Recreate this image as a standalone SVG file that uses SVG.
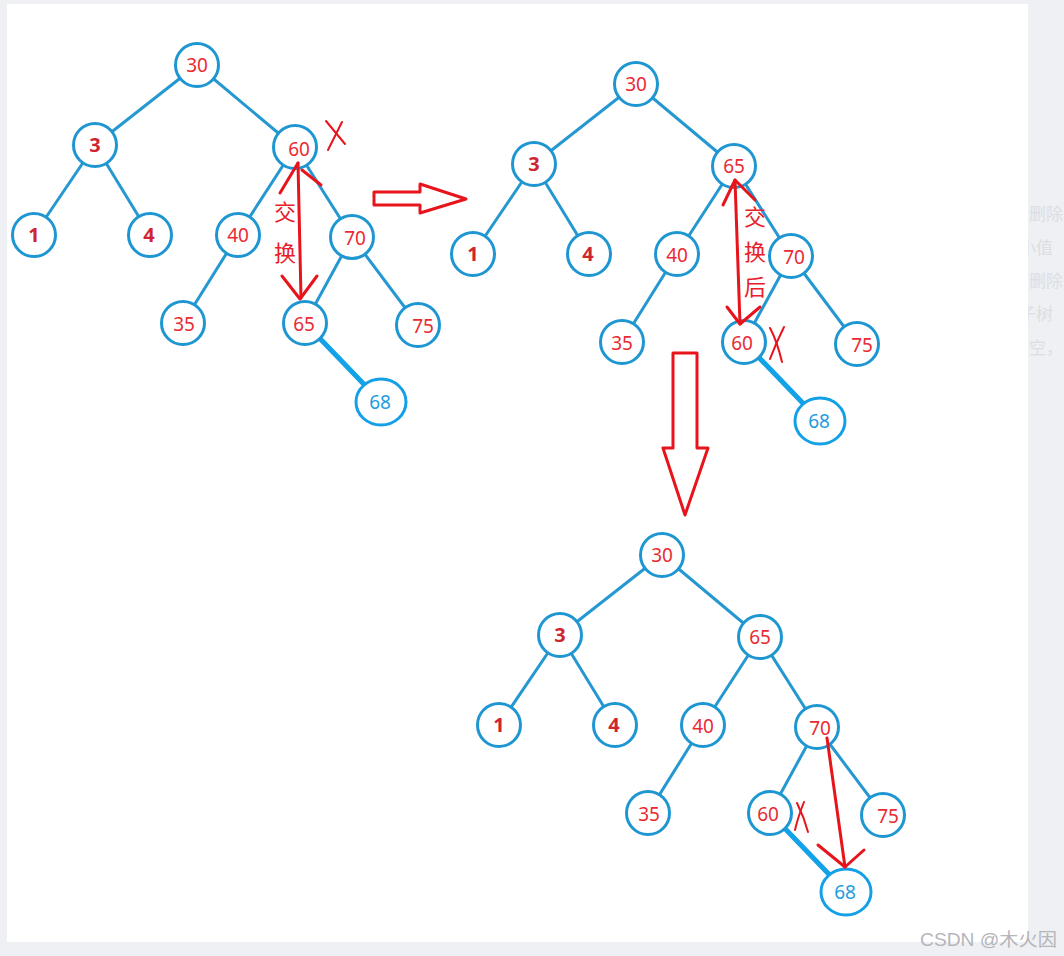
<svg xmlns="http://www.w3.org/2000/svg" width="1064" height="956" viewBox="0 0 1064 956">
<defs>
<style>
.e{stroke:#2598d2;stroke-width:3;fill:none;stroke-linecap:round}
.eb{stroke:#12a2e8;stroke-width:5;fill:none;stroke-linecap:round}
.n circle{fill:#fff;stroke:#1e96d1;stroke-width:3}
.n text{font-family:"Noto Sans","Open Sans",sans-serif;font-size:19px;fill:#ea2a33;text-anchor:middle}
.n text.b{font-weight:bold;fill:#cf2530;font-size:20px}
.nb ellipse{fill:#fff;stroke:#14a0e6;stroke-width:3}
.nb text{font-family:"Noto Sans","Open Sans",sans-serif;font-size:19px;fill:#1d9ce0;text-anchor:middle}
.r{stroke:#e8141c;stroke-width:3;fill:none;stroke-linecap:round;stroke-linejoin:round}
.rt{stroke:#e8141c;stroke-width:2;fill:none;stroke-linecap:round}
.cn{font-family:"Noto Sans CJK SC","Noto Sans",sans-serif;font-size:22px;fill:#e8202a;text-anchor:middle}
.bg{font-family:"Noto Sans CJK SC",sans-serif;font-size:17px;fill:#dcdee3}
</style>
</defs>
<rect width="1064" height="956" fill="#eef0f3"/>
<g id="page-text">
<text class="bg" x="1029" y="220">删除</text>
<text class="bg" x="1019" y="254">小值</text>
<text class="bg" x="1029" y="287">删除</text>
<text class="bg" x="1019" y="320">子树</text>
<text class="bg" x="1029" y="354">空，</text>
</g>
<rect x="7" y="4" width="1021" height="938" fill="#ffffff"/>

<!-- Tree 1 -->
<g id="tree1">
<g id="t1-edges">
<line class="e" x1="197" y1="65" x2="95" y2="145"/>
<line class="e" x1="197" y1="65" x2="295" y2="147"/>
<line class="e" x1="95" y1="145" x2="34" y2="235"/>
<line class="e" x1="95" y1="145" x2="150" y2="235"/>
<line class="e" x1="295" y1="147" x2="238" y2="235"/>
<line class="e" x1="295" y1="147" x2="352" y2="237"/>
<line class="e" x1="238" y1="235" x2="183" y2="323"/>
<line class="e" x1="352" y1="237" x2="305" y2="323"/>
<line class="e" x1="352" y1="237" x2="418" y2="325"/>
<line class="eb" x1="305" y1="323" x2="381" y2="402"/>
</g>
<g id="t1-n30" class="n"><circle cx="197" cy="65" r="21.5"/><text x="197" y="72">30</text></g>
<g id="t1-n3" class="n"><circle cx="95" cy="145" r="21.5"/><text class="b" x="95" y="152">3</text></g>
<g id="t1-n60" class="n"><circle cx="295" cy="147" r="21.5"/><text x="299" y="156">60</text></g>
<g id="t1-n1" class="n"><circle cx="34" cy="235" r="21.5"/><text class="b" x="34" y="242">1</text></g>
<g id="t1-n4" class="n"><circle cx="150" cy="235" r="21.5"/><text class="b" x="149" y="242">4</text></g>
<g id="t1-n40" class="n"><circle cx="238" cy="235" r="21.5"/><text x="238" y="242">40</text></g>
<g id="t1-n70" class="n"><circle cx="352" cy="237" r="21.5"/><text x="355" y="245">70</text></g>
<g id="t1-n35" class="n"><circle cx="183" cy="323" r="21.5"/><text x="184" y="331">35</text></g>
<g id="t1-n65" class="n"><circle cx="305" cy="323" r="21.5"/><text x="304" y="331">65</text></g>
<g id="t1-n75" class="n"><circle cx="418" cy="325" r="21.5"/><text x="423" y="333">75</text></g>
<g id="t1-n68" class="nb"><ellipse cx="381" cy="402" rx="25" ry="23"/><text x="380" y="409">68</text></g>
<g id="t1-notes">
<line class="r" x1="298" y1="163" x2="301" y2="298"/>
<polyline class="r" points="280,193 298,163"/>
<polyline class="r" points="302,170 321,185"/>
<polyline class="r" points="282,276 300,299 317,276"/>
<text class="cn" x="285" y="220">交</text>
<text class="cn" x="285" y="261">换</text>
<line class="rt" x1="326" y1="121" x2="345" y2="144"/>
<line class="rt" x1="342" y1="122" x2="328" y2="150"/>
</g>
</g>

<!-- right arrow -->
<polygon id="arrow-right" class="r" fill="#fff" points="374,192 420,192 420,184 466,199 420,213 420,205 374,205"/>

<!-- Tree 2 -->
<g id="tree2" transform="translate(439,19)">
<g id="t2-edges">
<line class="e" x1="197" y1="65" x2="95" y2="145"/>
<line class="e" x1="197" y1="65" x2="295" y2="147"/>
<line class="e" x1="95" y1="145" x2="34" y2="235"/>
<line class="e" x1="95" y1="145" x2="150" y2="235"/>
<line class="e" x1="295" y1="147" x2="238" y2="235"/>
<line class="e" x1="295" y1="147" x2="352" y2="237"/>
<line class="e" x1="238" y1="235" x2="183" y2="323"/>
<line class="e" x1="352" y1="237" x2="305" y2="323"/>
<line class="e" x1="352" y1="237" x2="418" y2="325"/>
<line class="eb" x1="305" y1="323" x2="381" y2="402"/>
</g>
<g id="t2-n30" class="n"><circle cx="197" cy="65" r="21.5"/><text x="197" y="72">30</text></g>
<g id="t2-n3" class="n"><circle cx="95" cy="145" r="21.5"/><text class="b" x="95" y="152">3</text></g>
<g id="t2-n65" class="n"><circle cx="295" cy="147" r="21.5"/><text x="295" y="154">65</text></g>
<g id="t2-n1" class="n"><circle cx="34" cy="235" r="21.5"/><text class="b" x="34" y="242">1</text></g>
<g id="t2-n4" class="n"><circle cx="150" cy="235" r="21.5"/><text class="b" x="149" y="242">4</text></g>
<g id="t2-n40" class="n"><circle cx="238" cy="235" r="21.5"/><text x="238" y="243">40</text></g>
<g id="t2-n70" class="n"><circle cx="352" cy="237" r="21.5"/><text x="355" y="245">70</text></g>
<g id="t2-n35" class="n"><circle cx="183" cy="323" r="21.5"/><text x="183" y="331">35</text></g>
<g id="t2-n60" class="n"><circle cx="305" cy="323" r="21.5"/><text x="303" y="331">60</text></g>
<g id="t2-n75" class="n"><circle cx="418" cy="325" r="21.5"/><text x="423" y="333">75</text></g>
<g id="t2-n68" class="nb"><ellipse cx="381" cy="402" rx="25" ry="23"/><text x="380" y="409">68</text></g>
<g id="t2-notes">
<line class="r" x1="296" y1="161" x2="301" y2="305"/>
<polyline class="r" points="284,186 296,161 316,181"/>
<polyline class="r" points="288,288 301,305 321,288"/>
<text class="cn" x="316" y="206">交</text>
<text class="cn" x="316" y="241">换</text>
<text class="cn" x="316" y="276">后</text>
<path class="rt" d="M331,309 Q338,322 343,343"/>
<path class="rt" d="M345,308 Q337,324 331,340"/>
</g>
</g>

<!-- down arrow -->
<polygon id="arrow-down" class="r" fill="#fff" points="673,353 697,353 697,448 708,448 685,515 663,448 673,448"/>

<!-- Tree 3 -->
<g id="tree3" transform="translate(465,490)">
<g id="t3-edges">
<line class="e" x1="197" y1="65" x2="95" y2="145"/>
<line class="e" x1="197" y1="65" x2="295" y2="147"/>
<line class="e" x1="95" y1="145" x2="34" y2="235"/>
<line class="e" x1="95" y1="145" x2="150" y2="235"/>
<line class="e" x1="295" y1="147" x2="238" y2="235"/>
<line class="e" x1="295" y1="147" x2="352" y2="237"/>
<line class="e" x1="238" y1="235" x2="183" y2="323"/>
<line class="e" x1="352" y1="237" x2="305" y2="323"/>
<line class="e" x1="352" y1="237" x2="418" y2="325"/>
<line class="eb" x1="305" y1="323" x2="381" y2="402"/>
</g>
<g id="t3-n30" class="n"><circle cx="197" cy="65" r="21.5"/><text x="197" y="72">30</text></g>
<g id="t3-n3" class="n"><circle cx="95" cy="145" r="21.5"/><text class="b" x="95" y="152">3</text></g>
<g id="t3-n65" class="n"><circle cx="295" cy="147" r="21.5"/><text x="295" y="154">65</text></g>
<g id="t3-n1" class="n"><circle cx="34" cy="235" r="21.5"/><text class="b" x="34" y="242">1</text></g>
<g id="t3-n4" class="n"><circle cx="150" cy="235" r="21.5"/><text class="b" x="149" y="242">4</text></g>
<g id="t3-n40" class="n"><circle cx="238" cy="235" r="21.5"/><text x="238" y="243">40</text></g>
<g id="t3-n70" class="n"><circle cx="352" cy="237" r="21.5"/><text x="355" y="245">70</text></g>
<g id="t3-n35" class="n"><circle cx="183" cy="323" r="21.5"/><text x="184" y="331">35</text></g>
<g id="t3-n60" class="n"><circle cx="305" cy="323" r="21.5"/><text x="303" y="331">60</text></g>
<g id="t3-n75" class="n"><circle cx="418" cy="325" r="21.5"/><text x="423" y="333">75</text></g>
<g id="t3-n68" class="nb"><ellipse cx="381" cy="402" rx="25" ry="23"/><text x="380" y="409">68</text></g>
<g id="t3-notes">
<line class="r" x1="362" y1="248" x2="380" y2="377"/>
<polyline class="r" points="353,355 380,377 399,360"/>
<path class="rt" d="M332,313 Q339,327 343,342"/>
<path class="rt" d="M339,312 Q333,327 330,340"/>
</g>
</g>

<text id="watermark" x="920" y="946" font-family="'Liberation Sans','Noto Sans CJK SC',sans-serif" font-size="18" textLength="137" lengthAdjust="spacingAndGlyphs" fill="#b4b6ba">CSDN @木火因</text>
</svg>
